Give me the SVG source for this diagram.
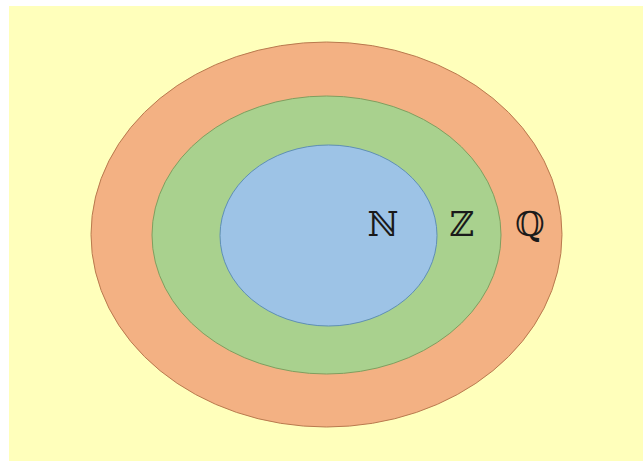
<svg xmlns="http://www.w3.org/2000/svg" width="643" height="461" viewBox="0 0 643 461">
<style>
.set{stroke-width:1}
.lbl{font-family:"DejaVu Serif","Liberation Serif",serif;font-size:34px;fill:#1a1a1a;text-anchor:middle}
</style>
<rect x="0" y="0" width="643" height="461" fill="#ffffff"/>
<rect x="9" y="6" width="634" height="455" fill="#ffffbb"/>
<g id="Q">
<ellipse class="set" cx="326.5" cy="234.5" rx="235.5" ry="192.5" fill="#f3b183" stroke="#b97a4e"/>
</g>
<g id="Z">
<ellipse class="set" cx="326.5" cy="235" rx="174.5" ry="139" fill="#a9d18e" stroke="#7f9f5f"/>
</g>
<g id="N">
<ellipse class="set" cx="328.5" cy="235.5" rx="108.5" ry="90.5" fill="#9dc3e6" stroke="#5f8fb5"/>
</g>
<g id="labels">
<text class="lbl" x="383" y="236">ℕ</text>
<text class="lbl" x="462" y="236">ℤ</text>
<text class="lbl" x="530" y="236">ℚ</text>
</g>
</svg>
